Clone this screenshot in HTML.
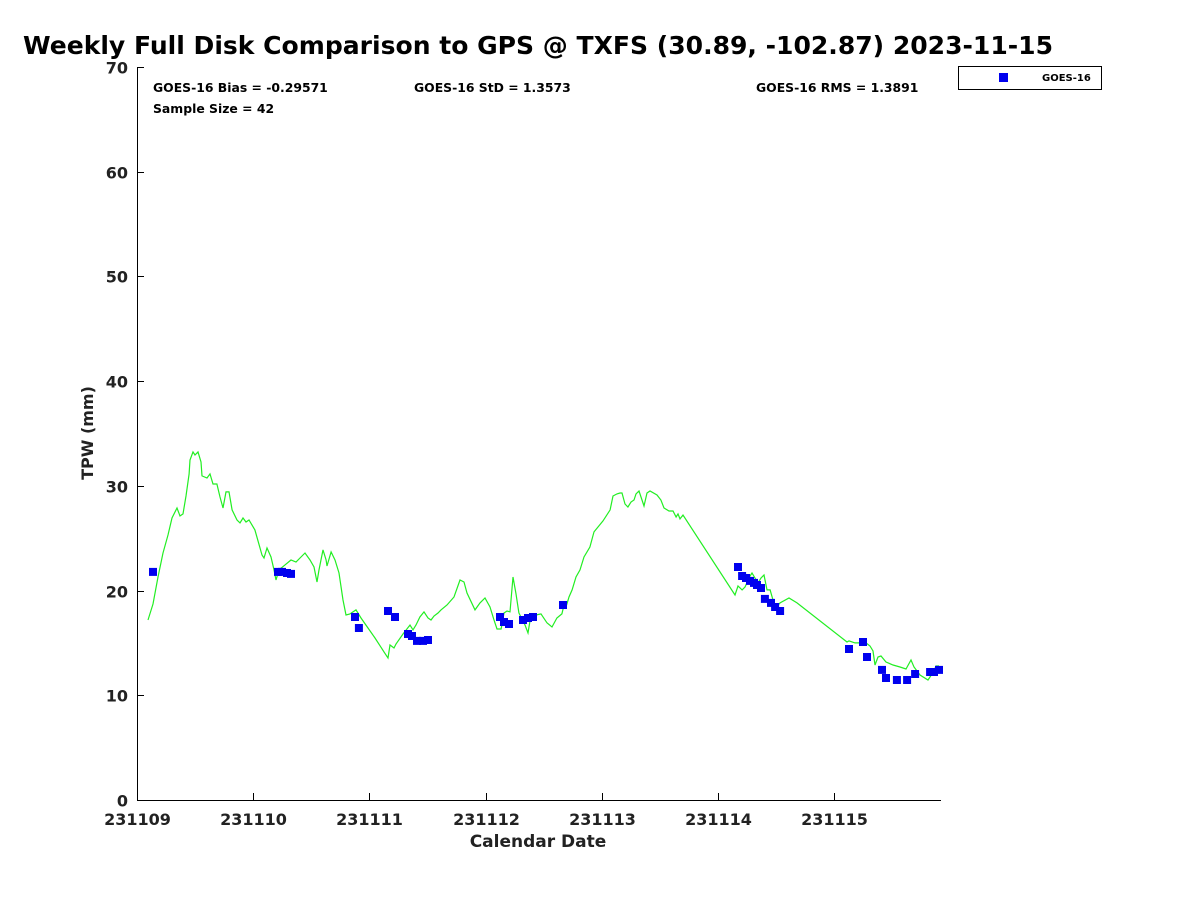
<!DOCTYPE html>
<html><head><meta charset="utf-8"><style>
html,body{margin:0;padding:0;background:#fff;}
svg{display:block;font-family:"DejaVu Sans","Liberation Sans",sans-serif;font-weight:bold;}
</style></head><body>
<svg id="chart" width="1200" height="900" xmlns="http://www.w3.org/2000/svg">
<text x="23" y="54" font-size="25" textLength="1030" lengthAdjust="spacingAndGlyphs" fill="#000">Weekly Full Disk Comparison to GPS @ TXFS (30.89, -102.87) 2023-11-15</text>
<text x="153" y="92" font-size="12.4">GOES-16 Bias = -0.29571</text>
<text x="414" y="92" font-size="12.4">GOES-16 StD = 1.3573</text>
<text x="756" y="92" font-size="12.4">GOES-16 RMS = 1.3891</text>
<text x="153" y="113" font-size="12.4">Sample Size = 42</text>
<g>
<rect x="958.5" y="66.5" width="143" height="23" fill="#fff" stroke="#000" stroke-width="1"/>
<rect x="999" y="73" width="9" height="9" fill="#0000ee"/>
<text x="1042" y="81" font-size="10">GOES-16</text>
</g>
<text transform="translate(93,433) rotate(-90)" text-anchor="middle" font-size="16" fill="#222">TPW (mm)</text>
<text x="538" y="847" text-anchor="middle" font-size="17" fill="#222">Calendar Date</text>
<g id="axes"></g>
<g id="plot"></g>
</svg>
<script>
const xTickLabels=["231109","231110","231111","231112","231113","231114","231115"];
const yTicks=[0,10,20,30,40,50,60,70];
const lineDays=[.095,.138,.181,.224,.267,.301,.344,.370,.396,.422,.448,.456,.482,.499,.525,.551,.559,.602,.628,.654,.688,.714,.740,.766,.792,.818,.861,.886,.912,.938,.964,1.015,1.076,1.093,1.119,1.153,1.179,1.196,1.222,1.274,1.325,1.368,1.403,1.446,1.489,1.523,1.549,1.566,1.601,1.627,1.635,1.670,1.704,1.738,1.773,1.799,1.833,1.885,1.928,1.988,2.048,2.126,2.160,2.177,2.212,2.229,2.289,2.349,2.375,2.401,2.435,2.470,2.504,2.530,2.556,2.590,2.616,2.668,2.728,2.780,2.814,2.840,2.909,2.952,2.995,3.038,3.072,3.098,3.133,3.158,3.184,3.210,3.236,3.262,3.287,3.339,3.365,3.391,3.434,3.477,3.528,3.571,3.614,3.657,3.675,3.692,3.718,3.744,3.778,3.812,3.847,3.898,3.933,4.010,4.071,4.096,4.131,4.157,4.174,4.200,4.225,4.251,4.277,4.294,4.320,4.346,4.363,4.389,4.415,4.475,4.509,4.535,4.578,4.613,4.639,4.656,4.673,4.699,5.146,5.172,5.207,5.232,5.275,5.293,5.318,5.344,5.370,5.396,5.422,5.448,5.473,5.491,5.534,5.611,5.680,6.110,6.127,6.179,6.230,6.274,6.308,6.334,6.351,6.377,6.403,6.446,6.506,6.566,6.618,6.661,6.687,6.738,6.807,6.859,6.876,6.902];
const lineValues=[17.19,18.72,21.30,23.59,25.31,26.93,27.89,27.12,27.32,29.03,31.14,32.47,33.24,32.95,33.24,32.28,30.95,30.75,31.14,30.18,30.18,28.94,27.89,29.42,29.42,27.70,26.74,26.46,26.93,26.55,26.74,25.79,23.40,23.11,24.07,23.21,21.97,21.01,21.97,22.45,22.92,22.73,23.11,23.59,22.92,22.25,20.82,21.97,23.88,22.92,22.35,23.69,22.92,21.68,19.10,17.67,17.77,18.15,17.38,16.43,15.47,14.14,13.56,14.80,14.52,14.90,15.85,16.71,16.24,16.71,17.48,17.96,17.38,17.19,17.57,17.86,18.15,18.62,19.39,21.01,20.82,19.77,18.15,18.82,19.29,18.43,17.19,16.33,16.33,17.86,18.05,17.96,21.30,19.68,17.86,16.71,15.95,17.67,17.67,17.77,16.91,16.52,17.38,17.77,18.62,18.43,19.39,20.06,21.30,21.97,23.21,24.16,25.60,26.65,27.70,29.03,29.23,29.32,29.32,28.27,27.98,28.46,28.65,29.23,29.51,28.65,28.08,29.32,29.51,29.13,28.65,27.89,27.60,27.60,27.03,27.32,26.84,27.22,19.58,20.44,20.06,20.34,21.39,21.68,21.20,20.73,21.20,21.49,20.06,20.06,19.10,18.34,18.82,19.29,18.82,15.09,15.19,15.00,15.00,15.00,14.71,14.23,12.89,13.66,13.75,13.18,12.89,12.70,12.51,13.37,12.70,11.94,11.46,12.32,12.80,12.80];
const goesDays=[.138,1.213,1.248,1.291,1.325,1.876,1.910,2.160,2.220,2.332,2.367,2.410,2.461,2.504,3.124,3.158,3.201,3.322,3.365,3.408,3.666,5.172,5.207,5.241,5.275,5.310,5.336,5.370,5.404,5.456,5.491,5.534,6.127,6.248,6.282,6.411,6.446,6.540,6.627,6.696,6.825,6.859,6.902];
const goesValues=[21.78,21.78,21.78,21.68,21.59,17.48,16.43,18.05,17.48,15.85,15.66,15.19,15.19,15.28,17.48,17.00,16.81,17.19,17.38,17.48,18.62,22.25,21.39,21.20,20.92,20.73,20.53,20.25,19.20,18.82,18.43,18.05,14.42,15.09,13.66,12.42,11.65,11.46,11.46,12.03,12.22,12.22,12.42];

const NS="http://www.w3.org/2000/svg";
const X0=137,X1=941,DAYPX=116.2,Y0=800,YTOP=67;
const xs=d=>X0+d*DAYPX;
const ys=v=>Y0-v*(Y0-YTOP)/70;
function mk(tag,attrs,parent){const e=document.createElementNS(NS,tag);for(const k in attrs)e.setAttribute(k,attrs[k]);parent.appendChild(e);return e;}
const axes=document.getElementById('axes'),plot=document.getElementById('plot');
let a=mk('line',{x1:X0+.5,y1:YTOP,x2:X0+.5,y2:Y0+.5,stroke:'#000','stroke-width':1},axes);


a=mk('line',{x1:X0,y1:Y0+.5,x2:X1,y2:Y0+.5,stroke:'#000','stroke-width':1},axes);


yTicks.forEach(v=>{const y=Math.round(ys(v))+.5;
 const t=mk('line',{x1:X0,y1:y,x2:X0+7,y2:y,stroke:'#000'},axes);
 
 
 const l=mk('text',{x:X0-9,y:y+6,'text-anchor':'end','font-size':16,fill:'#222'},axes);l.textContent=v;
 
 
});
xTickLabels.forEach((s,i)=>{const x=Math.round(xs(i))+.5;
 const t=mk('line',{x1:x,y1:Y0,x2:x,y2:Y0-7,stroke:'#000'},axes);
 
 
 const l=mk('text',{x:x,y:Y0+25,'text-anchor':'middle','font-size':16,fill:'#222'},axes);l.textContent=s;
 
 
});
const pts=lineDays.map((d,i)=>xs(d).toFixed(1)+','+ys(lineValues[i]).toFixed(1)).join(' ');
const pl=mk('polyline',{points:pts,fill:'none',stroke:'#22ee22','stroke-width':1.2},plot);


goesDays.forEach((d,i)=>{
 const r=mk('rect',{x:(xs(d)-4).toFixed(1),y:(ys(goesValues[i])-4).toFixed(1),width:8,height:8,fill:'#0000ee'},plot);
 
 
});
</script>
</body></html>
